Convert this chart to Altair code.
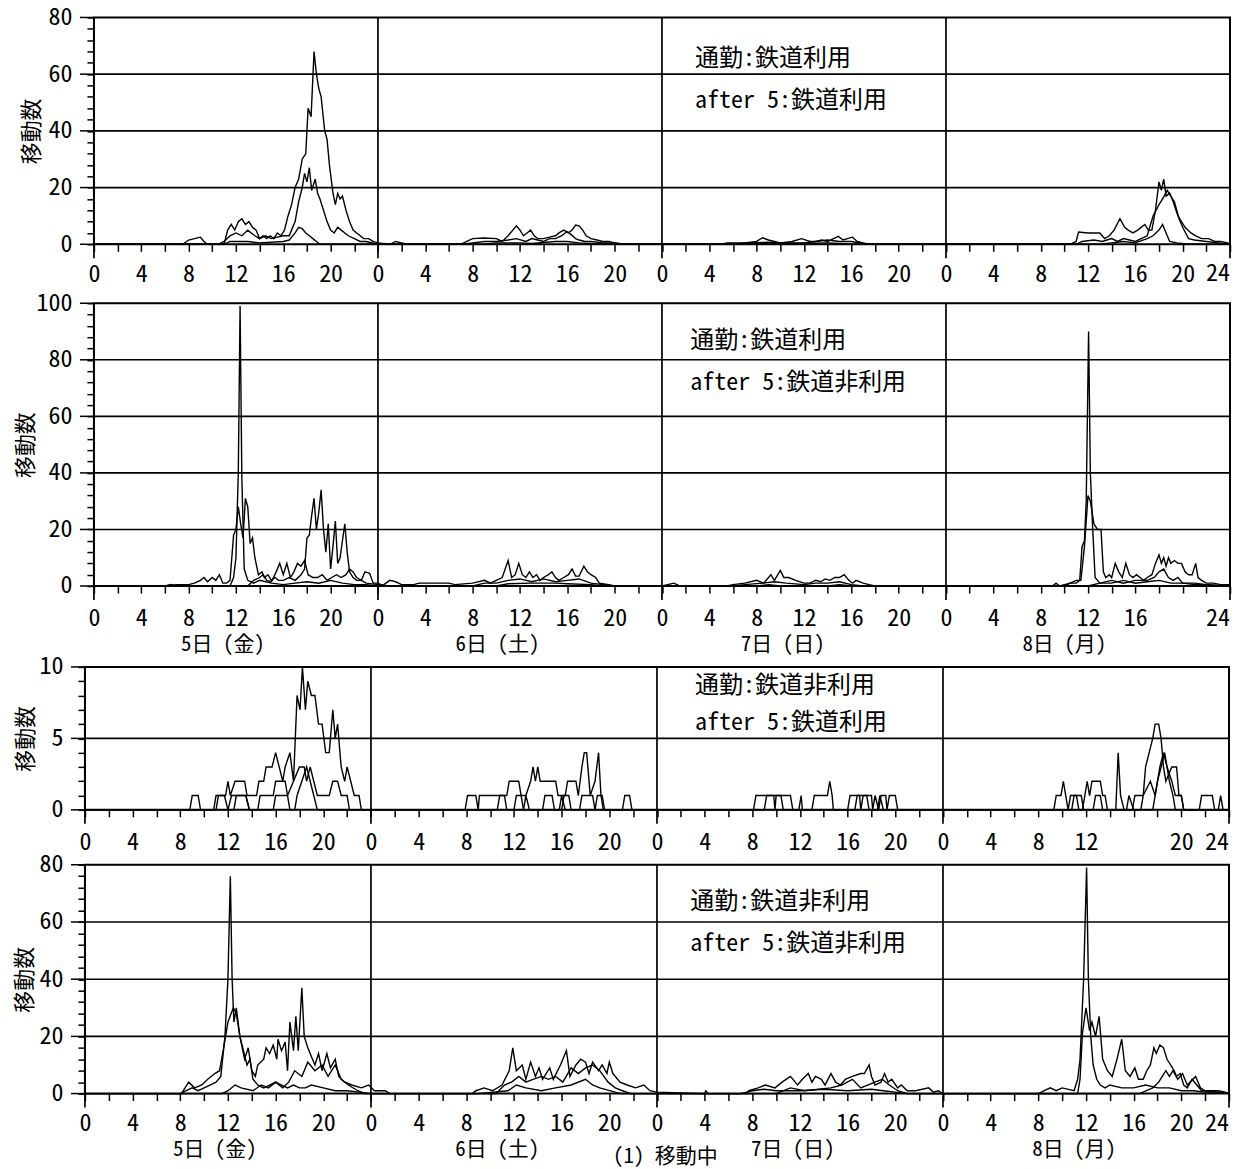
import altair as alt
import pandas as pd

# ---------------- data: (hour from 5th 0:00, count) ----------------
P1_A = [[0,0],[7.5,0],[8,1.5],[8.5,2],[9,2.5],[9.3,1],[9.6,0],[11,0],[11.3,5],[11.6,7],[11.9,5],[12.2,8],[12.5,9],[12.8,7],[13.1,8],[13.4,6],[13.7,5],[14.0,2],[14.3,3],[14.6,2],[14.9,3],[15.2,2],[15.5,4],[15.8,3],[16.1,5],[16.4,10],[16.7,14],[17.0,20],[17.3,23],[17.6,30],[17.9,32],[18.1,48],[18.35,45],[18.6,68],[18.8,60],[19.0,55],[19.2,52],[19.5,40],[19.7,37],[19.9,28],[20.2,18],[20.4,14],[20.6,18],[20.8,16],[21.0,17],[21.3,12],[21.6,8],[21.9,5],[22.2,4],[22.5,3],[22.8,2],[23.2,2],[23.6,1],[24,0.5],
        [25,0],[25.5,1],[26,0.5],[26.5,0],[31,0],[31.5,1],[32,2],[33,2.2],[34,2],[34.5,1],[35,3],[35.4,5],[35.7,6.5],[36.0,5],[36.3,3],[36.6,4],[36.9,5],[37.2,3],[37.5,2],[38,2],[38.5,2.5],[39,3],[39.3,4],[39.7,5],[40.1,4],[40.4,5],[40.7,6.8],[41,6.5],[41.3,5],[41.6,3],[42,2],[42.5,1.5],[43,1],[43.5,1],[44,0.5],[44.5,0],
        [53,0],[53.5,0.5],[55,0.5],[56,1],[56.5,2.3],[57,1.5],[57.5,1],[58,0.5],[59,1],[59.8,2],[60.5,1],[61,1],[61.5,1.5],[62,1],[62.5,2],[62.9,2.8],[63.3,1.5],[64.1,2.5],[64.5,1],[65,0.5],[65.5,0],
        [82.5,0],[83,1],[83.2,4.3],[84,4],[85,4],[85.4,2],[85.8,3],[86.2,5],[86.7,9],[87.1,6],[87.4,5],[87.8,4],[88.2,5],[88.8,7],[89.1,5],[89.4,5],[89.7,12],[90.0,22],[90.2,19],[90.4,23],[90.6,17],[90.9,18],[91.2,15],[91.6,10],[91.9,8],[92.2,6],[92.7,4],[93.1,3],[93.6,2],[94.2,2],[94.7,1],[95.2,1],[95.8,0.5],[96,0]]
P1_B = [[0,0],[10.5,0],[11,1],[11.5,3],[12,4],[12.5,3],[13,5],[13.3,4],[13.6,3],[14,2],[14.5,3],[15,2],[15.5,2.5],[16,3],[16.5,3],[17,8],[17.3,15],[17.6,20],[17.8,25],[18.0,22],[18.2,27],[18.4,19],[18.7,23],[18.9,18],[19.1,16],[19.4,12],[19.7,8],[20,5],[20.3,4],[20.6,6],[20.9,5],[21.2,4],[21.5,3],[22,2],[22.5,1],[23,1],[24,0],
        [31,0],[32,0.5],[33,1],[34,1],[35,1.5],[35.7,2],[36.5,1],[37,2],[37.5,1.5],[38,1],[38.5,2],[39,2],[39.5,3],[40,4.5],[40.3,3.5],[40.7,2],[41,1.5],[41.5,1],[42,1],[43,0.5],[44,0.5],[45,0],
        [54,0],[55,0.5],[57,0.7],[58,0.5],[60,0.5],[61,1],[62,1.5],[63,1],[64,1],[65,0.3],[66,0],
        [83,0],[83.5,1],[84.5,1.5],[85.2,1],[86,2],[86.5,1],[87,2],[88,1],[88.5,2],[89,3],[89.5,10],[90.0,14],[90.3,16],[90.7,19],[91.0,17],[91.3,15],[91.7,9],[92.0,6],[92.5,2],[93,1.5],[94,1],[95,0.5],[96,0]]
P1_C = [[0,0],[11,0],[11.5,1],[13,1],[14,0.5],[16,1],[16.5,1.5],[17,4],[17.3,6],[17.6,5.5],[17.9,4],[18.2,3],[18.5,2],[18.8,1],[19.1,0],
        [33,0],[34,0.5],[36,0.5],[37,0.3],[39,1],[40,1],[41,0.5],[43,0],
        [55,0],[56,0.3],[58,0.2],[62,0.5],[63,0.3],[64,0],
        [85,0],[86,0.5],[87,1],[88,0.5],[89,2],[89.5,3],[90,5],[90.3,7],[90.6,4],[90.9,1],[91.5,0.5],[92.5,0],[96,0]]

P2_A = [[0,0],[6,0],[6.5,0.5],[7,0],[11.5,0],[11.8,3],[12.0,10],[12.2,40],[12.35,99],[12.5,38],[12.7,6],[13,2],[13.5,1],[14,2],[15,1],[16,0.5],[17,1],[18,1.5],[19,1],[20,2],[21,1],[22,0.5],[23,0.5],[24,0],
        [24.5,0.5],[25,2],[25.5,1.5],[26,0.5],[27,0.5],[27.5,1],[30,1],[30.5,0.5],[32,1],[33,2],[33.5,1],[34,2],[34.5,3],[35.0,9],[35.3,3],[35.6,4],[35.9,8],[36.2,4],[36.5,3],[36.8,5],[37.1,3],[37.4,4],[37.7,2],[38,3],[38.4,4],[38.7,5],[39,3],[39.3,2],[39.7,3],[40.1,4],[40.4,6],[40.7,3.5],[41.0,3.5],[41.4,7],[41.7,5],[42,4],[42.4,3],[42.7,1],[43.5,0.5],[44,0],
        [48,0],[48.5,0.5],[49,1],[49.5,0],[53.5,0],[54,0.5],[55,1],[56,2],[56.6,1],[57.2,4],[57.5,2],[58.0,5.5],[58.3,3],[58.7,3],[59.3,2],[60,1],[60.5,1],[61,2],[61.4,1.5],[61.8,2.5],[62.2,2],[62.6,3],[63.0,3],[63.4,4],[63.8,2],[64.1,1],[64.4,2],[65,1],[65.5,0.5],[66,0],
        [81,0],[81.3,1],[81.6,0],[82.5,1],[83,1],[83.3,2],[83.5,14],[83.7,16],[83.85,30],[84.05,90],[84.2,40],[84.4,20],[84.6,3],[85,1],[86,1],[87,2],[88,1],[89,1.5],[90,2],[91,1],[92,1],[93,0.5],[94,0.5],[95,0.3],[96,0]]
P2_B = [[0,0],[6,0],[7,0.5],[8,0.5],[8.5,1],[9,2],[9.3,3],[9.6,1.5],[10,3],[10.3,2],[10.6,4],[10.9,1],[11.2,1],[11.5,2],[11.8,18],[12.0,20],[12.2,28],[12.4,22],[12.6,17],[12.8,31],[13.0,28],[13.2,15],[13.4,17],[13.6,10],[13.9,4],[14.2,5],[14.4,3],[14.7,4],[15.0,2],[15.3,3],[15.6,2],[16.0,2],[16.5,3],[17,2],[17.5,4],[17.8,6],[18.0,17],[18.2,18],[18.4,25],[18.6,31],[18.8,20],[19.0,26],[19.2,34],[19.4,20],[19.6,12],[19.8,22],[20.0,6],[20.2,14],[20.4,23],[20.6,8],[20.8,10],[21.0,16],[21.2,22],[21.4,12],[21.6,5],[21.9,3],[22.2,2],[22.6,2],[23,1],[24,0.5],
        [25,0],[32,0],[33,1],[34,1],[35,2],[36,2.5],[37,1.5],[38,2.5],[39,1.5],[40,2],[41,2.5],[42,1],[43,0.5],[44,0],
        [54,0],[55,0.5],[56.5,1],[57.5,1.5],[58.5,1],[60,0.5],[61,1],[62,1],[63,1.5],[64,0.5],[65,0],
        [82,0],[82.5,1],[83,2],[83.4,2],[83.7,14],[84.0,32],[84.2,30],[84.5,22],[84.8,20],[85.1,20],[85.3,5],[85.5,3],[85.8,4],[86.0,3],[86.3,8],[86.6,5],[86.9,3],[87.2,8],[87.5,4],[87.8,3],[88.1,4],[88.4,3],[88.7,2],[89.0,3],[89.4,4],[89.7,8],[90.0,11],[90.2,8],[90.4,10],[90.6,7],[90.8,10],[91.0,8],[91.3,9],[91.6,8],[91.9,8],[92.2,5],[92.5,4],[92.8,4],[93.1,8],[93.3,3],[93.6,2],[94,1],[94.6,1],[95.2,0.5],[96,0.5]]
P2_C = [[0,0],[13,0],[13.5,2],[14,3],[14.3,4],[14.6,2],[15,1.5],[15.4,5],[15.7,8],[16.0,4],[16.3,8],[16.6,3],[16.9,5],[17.2,8],[17.5,7],[17.8,9],[18.1,4],[18.5,3],[18.9,3],[19.3,4],[19.7,2],[20.1,3],[20.5,4],[20.9,3],[21.3,4],[21.6,6],[21.9,5],[22.2,3],[22.6,2],[22.9,5],[23.3,4.5],[23.6,1],[24,1],
        [24.5,0],[34,0],[35,0.8],[37,1],[39,1],[40,0.8],[42,0.5],[43,0],
        [56,0],[57,0.5],[58,0],[62,0],[63,0.5],[64,0],
        [84,0],[85,1],[86,2],[87,1],[88,2],[89,2],[89.6,3],[90,5],[90.4,6],[90.8,3],[91.2,2],[91.6,3],[92,1],[93,1],[94,0.5],[95,0],[96,0]]

P3_A = [[0,0],[8.8,0],[9,1],[9.5,1],[9.7,0],[11,0],[11.2,1],[11.8,1],[12.0,2],[12.2,1],[12.6,2],[13.4,2],[13.6,1],[14.4,1],[14.6,2],[15.0,2],[15.2,3],[15.7,3],[16.0,4],[16.3,3],[16.6,2],[16.8,3],[17.2,4],[17.5,2],[17.8,8],[18.05,7],[18.25,10],[18.5,7],[18.7,9],[19.0,8],[19.3,8],[19.6,6],[19.9,6],[20.2,4],[20.5,4],[20.8,7],[21.0,5],[21.2,6],[21.5,3],[21.8,2],[22.0,3],[22.3,2],[22.6,1],[23.0,1],[23.2,0],
        [31.9,0],[32.1,1],[32.8,1],[33.0,0],[33.1,1],[35.4,1],[35.6,2],[36.4,2],[36.6,1],[37.0,1],[37.4,2],[37.6,3],[37.8,2],[38.0,3],[38.2,2],[39.5,2],[39.7,1],[40.3,1],[40.5,2],[41.2,2],[41.4,1],[41.7,3],[41.9,4],[42.1,4],[42.4,1],[42.8,2],[43.1,4],[43.3,1],[43.5,0],[45.1,0],[45.3,1],[45.7,1],[45.9,0],
        [56.1,0],[56.3,1],[57.8,1],[57.9,0],[58.0,1],[59.2,1],[59.4,0],[59.9,0],[60.1,1],[60.2,0],[61.0,0],[61.2,1],[62.3,1],[62.5,2],[62.7,1],[62.8,0],[64.0,0],[64.2,1],[65.0,1],[65.1,0],[65.3,1],[66.0,1],[66.1,0],[66.3,1],[66.6,0],[66.8,1],[67.2,1],[67.3,0],[67.5,1],[68.0,1],[68.2,0],
        [81.3,0],[81.5,1],[81.9,1],[82.1,2],[82.3,1],[82.5,0],[82.7,1],[83.2,1],[83.4,0],[83.7,0],[83.9,1],[84.1,2],[84.3,1],[84.5,2],[85.2,2],[85.4,1],[85.6,1],[85.8,0],[86.5,0],[86.7,4],[86.9,1],[87.2,0],[87.9,0],[88.1,1],[88.8,1],[89.0,3],[89.3,4],[89.6,5],[89.8,6],[90.1,6],[90.3,5],[90.5,3],[90.7,2],[91.2,3],[91.6,3],[91.8,1],[92.0,1],[92.2,0],[93.5,0],[93.7,1],[94.6,1],[94.8,0],[95.1,0],[95.3,1],[95.5,0],[96,0]]
P3_B = [[0,0],[10.8,0],[11.0,1],[11.7,1],[12.0,0],[12.3,1],[13.5,1],[13.8,0],[14.5,0],[14.7,1],[15.8,1],[16.0,2],[16.8,2],[17.0,1],[17.5,2],[18.0,3],[18.4,3],[18.6,2],[18.9,3],[19.2,2],[19.5,1],[20.5,1],[20.8,2],[21.2,2],[21.5,1],[22.0,1],[22.2,0],
        [34.6,0],[34.8,1],[35.2,1],[35.4,0],[36.8,0],[37.0,1],[37.3,0],[38.4,0],[38.6,1],[39.2,1],[39.4,0],[40.0,0],[40.2,1],[40.6,1],[40.8,0],[41.5,0],[41.7,1],[42.6,1],[42.8,0],[43.0,1],[43.4,1],[43.6,0],
        [57.0,0],[57.2,1],[58.4,1],[58.6,0],[64.6,0],[64.8,1],[65.6,1],[65.8,0],[66.5,0],[66.7,1],[67.0,0],
        [82.8,0],[83.0,1],[83.6,1],[83.8,0],[84.6,0],[84.8,1],[85.2,1],[85.4,0],[88.6,0],[88.8,1],[89.4,2],[89.8,1],[90.0,2],[90.2,3],[90.5,4],[90.8,3],[91.2,2],[91.5,1],[92.0,1],[92.2,0],[96,0]]
P3_C = [[0,0],[12.5,0],[12.7,1],[13.5,1],[13.8,0],[15.8,0],[16.0,1],[17.0,1],[17.2,0],[17.6,0],[17.8,1],[18.2,2],[18.6,3],[18.9,2],[19.2,1],[19.5,0],
        [36.0,0],[36.2,1],[36.6,1],[36.8,0],[39.8,0],[40.0,1],[40.3,0],
        [87.4,0],[87.6,1],[88.0,0],[89.6,0],[89.8,1],[90.0,2],[90.6,4],[91.0,2],[91.3,1],[91.5,0],[96,0]]

P4_A = [[0,0],[8,0],[8.5,1],[9,2],[9.5,1],[10,2],[10.5,3],[11,4],[11.4,6],[11.75,20],[12.0,40],[12.2,76],[12.35,40],[12.5,25],[12.7,30],[13.0,20],[13.3,15],[13.6,10],[13.85,12],[14.1,5],[14.5,3],[15,2],[15.5,3],[16,4],[16.5,3],[17,2],[17.5,3],[18,2],[18.5,2],[19,3],[20,2],[21,1],[22,1],[23,0.5],[24,0],
        [33,0],[35.5,1],[36.2,3],[37,2],[38.3,1],[39.5,2],[40.8,3],[42,5],[42.6,3],[43.2,2],[44.5,0.5],[45,0],
        [58,0],[59.2,2],[60.4,1],[62.6,2],[63.5,3],[64.4,5],[65.1,2],[66.3,4],[66.9,5],[67.5,3],[68.2,1],[69,0],
        [80,0],[80.5,1],[81,2],[81.5,1],[82,2],[83,1],[83.3,5],[83.5,12],[83.8,40],[84.05,79],[84.2,40],[84.4,20],[84.6,10],[84.9,5],[85.2,3],[85.6,2],[86,3],[87,2],[88,2],[89,3],[90,2],[91,2],[92,1],[93,1],[94,0.5],[95,0.5],[96,0]]
P4_B = [[0,0],[8.1,0],[8.7,4],[9.2,2],[9.8,3],[10.3,5],[10.9,7],[11.3,8],[11.6,15],[12.0,25],[12.45,30],[12.7,28],[13.0,20],[13.4,12],[13.7,16],[14.0,8],[14.3,6],[14.5,10],[15.0,12],[15.2,16],[15.5,14],[15.8,17],[16.1,12],[16.2,19],[16.5,15],[16.8,18],[17.0,8],[17.2,25],[17.5,15],[17.7,27],[17.9,15],[18.2,37],[18.4,20],[18.7,16],[19.0,13],[19.3,10],[19.6,14],[19.9,8],[20.3,14],[20.6,9],[21.0,12],[21.3,6],[21.8,4],[22.4,3],[23.2,2],[23.8,3],[24.3,1],[25.2,1],[25.6,0],
        [32.5,0],[32.8,1],[33.5,2],[34.2,1],[35.0,3],[35.6,8],[35.9,16],[36.2,8],[36.7,10],[37.0,5],[37.4,11],[37.8,6],[38.1,9],[38.4,5],[39.0,9],[39.3,5],[39.9,10],[40.4,15],[40.7,6],[41.2,10],[41.6,12],[42.0,11],[42.3,7],[42.6,11],[43.1,8],[43.4,10],[43.8,7],[44.0,11],[44.3,7],[44.9,4],[45.5,3],[46.2,2],[46.9,3],[47.4,1],[48,0.5],
        [52,0],[52.1,1],[52.3,0],[55.5,0],[55.7,1],[56.5,2],[57.1,3],[57.9,2],[58.5,4],[59.2,6],[59.8,3],[60.2,5],[60.7,7],[61.0,4],[61.3,6],[61.8,5],[62.1,3],[62.6,7],[63.0,4],[63.4,3],[63.8,5],[64.4,6],[65.1,7],[65.4,7],[65.8,10],[66.0,6],[66.3,3],[66.8,4],[67.1,7],[67.4,4],[67.7,5],[68.2,2],[68.5,3],[69,1],[69.7,1],[70.8,2],[71.2,0.5],[71.6,1],[72,0],
        [83.3,0],[83.5,5],[83.7,21],[84.0,30],[84.3,22],[84.5,25],[84.8,20],[85.1,27],[85.4,12],[85.8,8],[86.2,6],[86.6,12],[87.0,19],[87.3,8],[87.7,6],[88.1,9],[88.4,5],[88.8,5],[89.1,8],[89.4,10],[89.7,16],[89.9,14],[90.2,17],[90.5,16],[90.8,12],[91.1,10],[91.4,8],[91.6,6],[91.9,7],[92.2,3],[92.5,2],[92.9,5],[93.3,3],[93.7,1],[94,1],[95.1,1],[95.7,0.5],[96,0]]
P4_C = [[0,0],[11.5,0],[12.0,1],[12.6,3],[13.1,2],[14.1,1],[14.8,3],[15.4,2],[16.0,4],[16.6,2],[17.1,4],[17.6,8],[18.2,6],[18.7,11],[19.3,8],[19.9,10],[20.4,6],[21.0,10],[21.5,5],[22.1,3],[22.9,1],[23.5,0],
        [34.5,0],[35.2,3],[35.8,4],[36.4,6],[37.0,4],[37.6,5],[38.3,6],[38.9,5],[39.5,6],[40.1,4],[40.8,9],[41.4,7],[42.0,9],[42.6,10],[43.2,8],[43.9,4],[44.5,2],[45.1,1],[45.8,0],
        [55,0],[56,1],[57,1.5],[58,1],[60,1],[62,1.5],[64,1],[66,1.5],[67,1],[68,0.5],[69,0],
        [88.5,0],[89.6,2],[90.1,4],[90.4,6],[90.7,8],[91.0,6],[91.3,8],[91.7,5],[92.1,7],[92.5,3],[93.2,6],[93.6,2],[94,1],[95,0.5],[96,0]]

X_TICKS = list(range(0, 97, 2))
DAY_TICKS = [0, 24, 48, 72, 96]

P1_LEGEND = [["通勤:鉄道利用", 50.8, 65.5], ["after 5:鉄道利用", 50.8, 50.7]]
P2_LEGEND = [["通勤:鉄道利用", 50.4, 86.6], ["after 5:鉄道非利用", 50.4, 71.8]]
P3_LEGEND = [["通勤:鉄道非利用", 51.2, 8.7], ["after 5:鉄道利用", 51.2, 6.06]]
P4_LEGEND = [["通勤:鉄道非利用", 50.8, 67.0], ["after 5:鉄道非利用", 50.8, 52.3]]

P2_DAYS = [["5日 (金)", 10.9], ["6日 (土)", 34.1], ["7日 (日)", 58.2], ["8日 (月)", 82.0]]
P4_DAYS = [["5日 (金)", 10.9], ["6日 (土)", 34.6], ["7日 (日)", 59.4], ["8日 (月)", 83.0]]
P4_CAPTION = [["(1) 移動中", 48.7]]

Y_TITLE = "移動数"

# ---------------- styling ----------------
NUM_FONT = "'Noto Sans Mono CJK JP', 'Liberation Sans Narrow', 'Liberation Sans', sans-serif"
JP_FONT = "'Noto Sans Mono CJK JP', 'Noto Sans CJK JP', sans-serif"
TITLE_FONT = "'Noto Sans CJK JP', sans-serif"
NUM_SIZE = 24


def panel(series, ymax, minor, major, width, height, label_pad, title_x, legend, anchor_left,
          hide=(), days=None, day_off=55, caption=None, cap_off=66, anchor_bottom=40):
    rows = []
    for name, pts in series:
        for h, v in pts:
            rows.append({"h": h, "v": v, "s": name})
    df = pd.DataFrame(rows)
    xs = alt.Scale(domain=[0, 96], nice=False, zero=False)
    ys = alt.Scale(domain=[0, ymax], nice=False, zero=True)

    hide_expr = " || ".join(f"datum.value == {h}" for h in hide) if hide else "false"
    x_expr = f"(datum.value % 4 != 0 || datum.value == 96 || {hide_expr}) ? '' : '' + (datum.value % 24)"
    y_vals = [i * minor for i in range(int(round(ymax / minor)) + 1)]
    majors = [v for v in y_vals if v % major == 0]
    y_expr = f"datum.value % {major} == 0 ? '' + datum.value : ''"

    # one shared axis definition, reused by every layer that encodes the channel
    xax = alt.Axis(values=X_TICKS, labelExpr=x_expr, title=None, labelPadding=label_pad, tickSize=7)
    yax = alt.Axis(values=y_vals, labelExpr=y_expr, title=Y_TITLE, titleX=title_x, titleY=height / 2,
                   titleAngle=270, titleAlign="center", titleBaseline="middle",
                   labelPadding=15, tickSize=7)

    def X(f):
        return alt.X(f, scale=xs, axis=xax)

    def Y(f):
        return alt.Y(f, scale=ys, axis=yax)

    layers = []
    grid = alt.Chart(pd.DataFrame({"v": [m for m in majors if 0 < m < ymax]})).mark_rule(
        color="black", strokeWidth=1.6).encode(y=Y("v:Q"))
    layers.append(grid)

    seps = alt.Chart(pd.DataFrame({"h": DAY_TICKS})).mark_rule(color="black", strokeWidth=1.7).encode(
        x=X("h:Q"), y=alt.value(0), y2=alt.value(height + 14))
    layers.append(seps)

    ymaj = alt.Chart(pd.DataFrame({"v": majors})).mark_rule(color="black", strokeWidth=1.5).encode(
        y=Y("v:Q"), x=alt.value(-14), x2=alt.value(0))
    layers.append(ymaj)

    lines = alt.Chart(df).mark_line(color="black", strokeWidth=1.4).encode(
        x=X("h:Q"), y=Y("v:Q"), detail="s:N")
    layers.append(lines)

    leg = alt.Chart(pd.DataFrame(legend, columns=["t", "h", "v"])).mark_text(
        align="left", baseline="middle", font=JP_FONT, fontSize=24, color="black").encode(
        x=X("h:Q"), y=Y("v:Q"), text="t:N")
    layers.append(leg)

    end_lab = alt.Chart(pd.DataFrame({"h": [96], "t": ["24"]})).mark_text(
        align="right", baseline="top", font=NUM_FONT, fontSize=NUM_SIZE, color="black").encode(
        x=X("h:Q"), y=alt.value(height + 7 + label_pad), text="t:N")
    layers.append(end_lab)

    if days:
        dl = alt.Chart(pd.DataFrame(days, columns=["t", "h"])).mark_text(
            align="center", baseline="middle", font=JP_FONT, fontSize=21, color="black").encode(
            x=X("h:Q"), y=alt.value(height + day_off), text="t:N")
        layers.append(dl)
    if caption:
        cl = alt.Chart(pd.DataFrame(caption, columns=["t", "h"])).mark_text(
            align="center", baseline="middle", font=JP_FONT, fontSize=21, color="black").encode(
            x=X("h:Q"), y=alt.value(height + cap_off), text="t:N")
        layers.append(cl)

    anchor = alt.Chart(pd.DataFrame({"a": [0]})).mark_rule(opacity=0).encode(
        x=alt.value(-anchor_left), y=alt.value(0), y2=alt.value(height + anchor_bottom))
    layers.append(anchor)

    return alt.layer(*layers).properties(width=width, height=height)


p1 = panel([("a", P1_A), ("b", P1_B), ("c", P1_C)], 80, 4, 20, 1137, 227, 11, -62, P1_LEGEND, 84,
           anchor_bottom=55)
p2 = panel([("a", P2_A), ("b", P2_B), ("c", P2_C)], 100, 4, 20, 1137, 283, 14, -68, P2_LEGEND, 84,
           hide=(92,), days=P2_DAYS, day_off=59, anchor_bottom=77)
p3 = panel([("a", P3_A), ("b", P3_B), ("c", P3_C)], 10, 1, 5, 1145, 143, 14, -59, P3_LEGEND, 76,
           hide=(88,), anchor_bottom=51)
p4 = panel([("a", P4_A), ("b", P4_B), ("c", P4_C)], 80, 4, 20, 1145, 229, 11, -60, P4_LEGEND, 76,
           days=P4_DAYS, day_off=56, caption=P4_CAPTION, cap_off=63, anchor_bottom=40)

# invisible 1px spacer that shifts the upper two panels 8px to the right of the lower two
spacer = alt.Chart(pd.DataFrame({"a": [0]})).mark_point(opacity=0).encode(
    x=alt.value(0), y=alt.value(0)).properties(
    width=1, height=1, view=alt.ViewBackground(stroke="transparent", strokeWidth=0))

top = alt.hconcat(spacer, alt.vconcat(p1, p2, spacing=-10), spacing=-79)
bottom = alt.vconcat(p3, p4, spacing=-10)

chart = alt.vconcat(top, bottom, spacing=-10).properties(
    padding={"left": 0, "top": -4, "right": 0, "bottom": 0},
    background="white",
).configure_view(stroke="black", strokeWidth=2).configure_axis(
    domain=False, grid=False, tickColor="black", tickWidth=1.5, labelColor="black",
    labelFont=NUM_FONT, labelFontSize=NUM_SIZE, labelOverlap=False, labelFlush=False,
    labelBound=False, titleFont=TITLE_FONT, titleFontSize=22, titleFontWeight="normal",
    titleColor="black")

chart.save("out.html", embed_options={"renderer": "svg", "actions": False})
